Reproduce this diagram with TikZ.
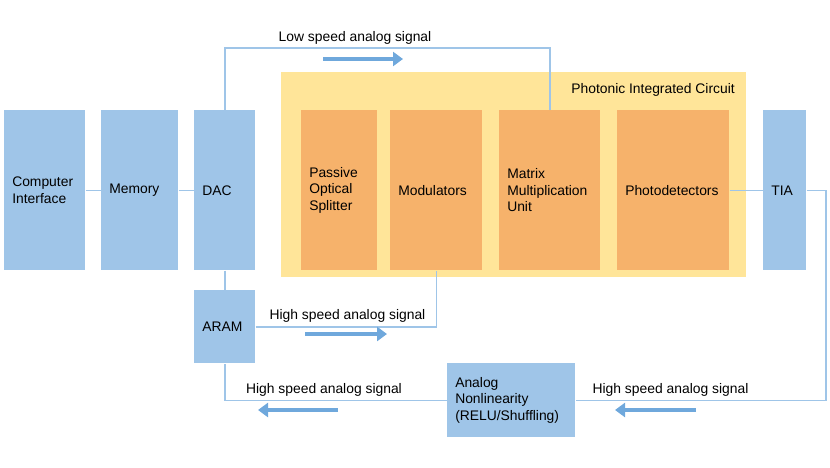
\documentclass[tikz,border=0pt]{standalone}
\usepackage{fontspec}
\setmainfont{Liberation Sans}
\usetikzlibrary{arrows.meta}
\definecolor{boxblue}{HTML}{9FC5E8}
\definecolor{arrowblue}{HTML}{6FA8DC}
\definecolor{chipyellow}{HTML}{FFE599}
\definecolor{unitorange}{HTML}{F6B26B}
\begin{document}
\begin{tikzpicture}[x=0.75pt,y=-0.75pt,
	every node/.style={font=\fontsize{10.4}{12.5}\selectfont},
	block/.style={fill=boxblue, anchor=north west, inner xsep=6pt, inner ysep=0pt, align=left, minimum height=120pt},
	unit/.style={block, fill=unitorange},
	link/.style={draw=boxblue, line width=1.1pt},
	flow/.style={draw=arrowblue, line width=2.4pt, -{Triangle[width=10.5pt,length=7.5pt]}},
	tag/.style={anchor=base, inner sep=0pt}]
	\useasboundingbox (0,0) rectangle (830,467);
	% chip
	\node[fill=chipyellow, anchor=north west, inner sep=0pt, minimum width=348.75pt, minimum height=153.75pt] (pic) at (281,72) {};
	\node[anchor=base east, inner sep=0pt] (piclbl) at (735,93) {Photonic Integrated Circuit};
	% blocks
	\node[block, text width=48.75pt] (ci) at (4,110) {Computer\\Interface};
	\node[block, text width=45.75pt] (mem) at (101,110) {Memory};
	\node[block, text width=33.75pt] (dac) at (194,110) {DAC};
	\node[unit, text width=45pt] (split) at (301,110) {Passive\\Optical\\Splitter};
	\node[unit, text width=57pt] (mod) at (390,110) {Modulators};
	\node[unit, text width=63.75pt] (mmu) at (499,110) {Matrix\\Multiplication\\Unit};
	\node[unit, text width=72pt] (pd) at (617,110) {Photodetectors};
	\node[block, text width=20.25pt] (tia) at (763,110) {TIA};
	\node[block, text width=33.75pt, minimum height=54.75pt] (aram) at (194,290) {ARAM};
	\node[block, text width=84pt, minimum height=55.5pt] (anl) at (447,363) {Analog\\Nonlinearity\\(RELU/Shuffling)};
	% wiring
	\coordinate (lowbus) at (0,48);
	\coordinate (rightbus) at (826,0);
	\draw[link] (ci.east) -- (mem.west);
	\draw[link] (mem.east) -- (dac.west);
	\draw[link] (dac.north) -- (dac.north |- lowbus) -| (mmu.north);
	\draw[link] (dac.south) -- (aram.north);
	\draw[link] (aram.east) -| (mod.south);
	\draw[link] (pd.east) -- (tia.west);
	\draw[link] (tia.east) -- (tia.east -| rightbus) |- (anl.east);
	\draw[link] (anl.west) -| (aram.south);
	% signal labels and arrows
	\node[tag] (lowlbl) at (355,42) {Low speed analog signal};
	\node[tag] (hilbl) at (347.5,319) {High speed analog signal};
	\node[tag] (retlbl) at (324,393) {High speed analog signal};
	\node[tag] (tialbl) at (670.5,393) {High speed analog signal};
	\coordinate (lowA) at (323,59);
	\coordinate (lowB) at (403,59);
	\coordinate (hiA) at (305,334);
	\coordinate (hiB) at (387,334);
	\coordinate (retA) at (338,410);
	\coordinate (retB) at (258,410);
	\coordinate (tiaA) at (696,410);
	\coordinate (tiaB) at (615,410);
	\draw[flow] (lowA) -- (lowB);
	\draw[flow] (hiA) -- (hiB);
	\draw[flow] (retA) -- (retB);
	\draw[flow] (tiaA) -- (tiaB);
\end{tikzpicture}
\end{document}
